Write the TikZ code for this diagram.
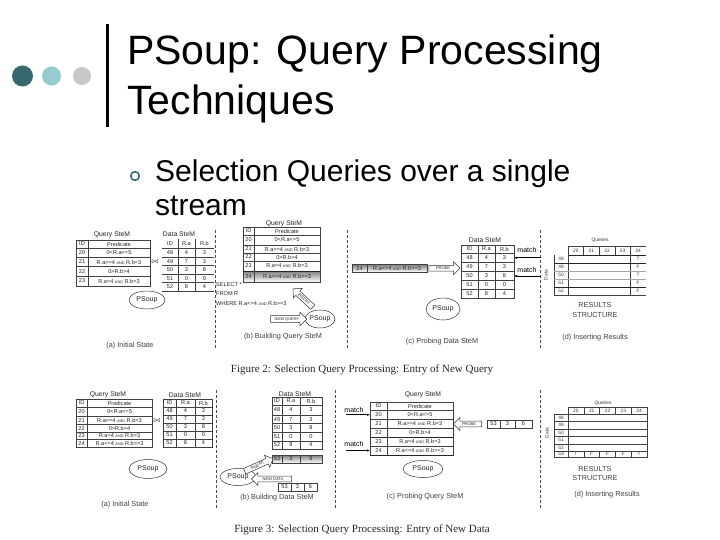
\documentclass[tikz,border=0pt]{standalone}
\usepackage{fontspec}
\setmainfont{Liberation Sans}
\newfontfamily\seriff{Liberation Serif}
\usetikzlibrary{shapes.geometric,shapes.arrows,arrows.meta}
\definecolor{dteal}{HTML}{366870}
\definecolor{lteal}{HTML}{96CBD0}
\definecolor{lgrey}{HTML}{C8C8C8}
\definecolor{shade}{HTML}{D2D2D2}
\newcommand{\andw}{\ {\fontsize{3.8}{4}\selectfont AND}\ }
\tikzset{
  tx/.style={inner sep=0pt, text=black!85, font=\fontsize{5.6}{6}\selectfont},
  ttl/.style={inner sep=0pt, text=black!85, font=\fontsize{6.8}{7}\selectfont},
  pcap/.style={inner sep=0pt, text=black!75, font=\fontsize{7.3}{8}\selectfont},
  tiny/.style={inner sep=0pt, text=black!80, font=\fontsize{4.8}{5}\selectfont},
  psoup/.style={draw=black!80, ellipse, inner sep=0pt, line width=0.5pt, text=black!85, font=\fontsize{7}{7}\selectfont},
  sepline/.style={black!70, line width=0.6pt, dash pattern=on 3pt off 2pt},
  grid/.style={black!75, line width=0.5pt},
  boldgrid/.style={black!85, line width=0.9pt},
  harrow/.style={draw=black!80, fill=white, single arrow, single arrow head extend=3.5pt, minimum height=#1, inner sep=1.3pt, line width=0.5pt, text=black!85, font=\fontsize{4}{4}\selectfont},
  matcharrow/.style={-{Latex[length=3pt,width=2.5pt]}, black, line width=0.8pt},
  caption/.style={inner sep=0pt, text=black!85, font=\seriff\fontsize{11}{11}\selectfont}
}
\begin{document}
\begin{tikzpicture}[x=1pt,y=-1pt]
\useasboundingbox (0,0) rectangle (720,540);
\fill[white] (0,0) rectangle (720,540);

% ---------- slide header ----------
\fill[dteal] (22.5,76) circle (10.5);
\fill[lteal] (51.5,76) circle (9.5);
\fill[lgrey] (82,76) circle (9);
\fill[black] (105.5,24) rectangle (109,127);
\node[anchor=base west, inner sep=0pt, font=\fontsize{41}{41}\selectfont] (t1) at (127,65) {PSoup: Query Processing};
\node[anchor=base west, inner sep=0pt, font=\fontsize{41}{41}\selectfont] (t2) at (127,115) {Techniques};
\draw[dteal, line width=1.6pt] (135,176) circle (4.3);
\node[anchor=base west, inner sep=0pt, font=\fontsize{30}{30}\selectfont] (b1) at (155,182) {Selection Queries over a single};
\node[anchor=base west, inner sep=0pt, font=\fontsize{30}{30}\selectfont] (b2) at (155,215) {stream};

% ================= FIGURE 2 =================
\draw[sepline] (215,230) -- (215,348);
\draw[sepline] (347,230) -- (347,348);
\draw[sepline] (540,230) -- (540,348);

% ---- (a) ----
\node[ttl] (qa-title) at (112,235) {Query SteM};
\draw[grid] (76,240) rectangle (150,286);
\foreach \yy in {248,257.5,266.5,276} \draw[grid] (76,\yy) -- (150,\yy);
\draw[grid] (88,240) -- (88,286);
\node[tx] (qa-h1) at (82,244) {ID};
\node[tx] (qa-h2) at (119,244) {Predicate};
\foreach \id/\p/\yy [count=\k] in {20/{0<R.a<=5}/252.75, 21/{R.a>=4\andw R.b=3}/262, 22/{0>R.b>4}/271.25, 23/{R.a=4\andw R.b=3}/281} {
  \node[tx] (qa-i\k) at (82,\yy) {\id};
  \node[tx] (qa-p\k) at (119,\yy) {\p};
}
\node[inner sep=0pt, font=\fontsize{7}{7}\selectfont] (join2) at (155,262) {$\bowtie$};
\node[ttl] (da-title) at (179,234) {Data SteM};
\foreach \yy in {248,257,265.5,274,282.5,291} \draw[grid] (162,\yy) -- (214,\yy);
\draw[grid] (178,239) -- (178,291);
\draw[grid] (195,239) -- (195,291);
\node[tx] (da-h1) at (170,243.5) {ID};
\node[tx] (da-h2) at (186.5,243.5) {R.a};
\node[tx] (da-h3) at (204.5,243.5) {R.b};
\foreach \id/\a/\b/\yy [count=\k] in {48/4/3/252.5, 49/7/3/261.25, 50/3/8/269.75, 51/0/0/278.25, 52/8/4/286.75} {
  \node[tx] (da-i\k) at (170,\yy) {\id};
  \node[tx] (da-a\k) at (186.5,\yy) {\a};
  \node[tx] (da-b\k) at (204.5,\yy) {\b};
}
\node[psoup, minimum width=36pt, minimum height=18pt] (ps2a) at (147,300) {PSoup};
\node[pcap] (cap2a) at (130,346) {(a) Initial State};

% ---- (b) ----
\node[ttl] (qb-title) at (284,224) {Query SteM};
\fill[shade] (243,271) rectangle (320,282);
\draw[grid] (243,227) rectangle (320,282);
\foreach \yy in {235,245,253,261} \draw[grid] (243,\yy) -- (320,\yy);
\draw[boldgrid] (243,271) -- (320,271);
\draw[grid] (254,227) -- (254,282);
\node[tx] (qb-h1) at (248.5,231) {ID};
\node[tx] (qb-h2) at (287,231) {Predicate};
\foreach \id/\p/\yy [count=\k] in {20/{0<R.a<=5}/240, 21/{R.a>=4\andw R.b=3}/249, 22/{0>R.b>4}/257, 23/{R.a=4\andw R.b=3}/265.5, 24/{R.a<=4\andw R.b>=3}/276.5} {
  \node[tx] (qb-i\k) at (248.5,\yy) {\id};
  \node[tx] (qb-p\k) at (287,\yy) {\p};
}
\node[tx, anchor=west] (sql1) at (216,285) {SELECT *};
\node[tx, anchor=west] (sql2) at (216,294) {FROM R};
\node[tx, anchor=west] (sql3) at (216,303) {WHERE R.a<=4\andw R.b>=3};
\node[psoup, minimum width=30pt, minimum height=18pt] (ps2b) at (320,319) {PSoup};
\node[harrow=27pt, rotate=-43, shape border rotate=180] (ins2) at (304,299) {INSERT};
\node[harrow=36pt] (nq2) at (287,319) {NEW QUERY};
\node[pcap] (cap2b) at (283,337) {(b) Building Query SteM};

% ---- (c) ----
\fill[shade] (352,264.5) rectangle (427,272);
\draw[grid] (352,264.5) rectangle (427,272);
\draw[grid] (367,264.5) -- (367,272);
\node[tx] (pr-i) at (359.5,268.25) {24};
\node[tx] (pr-p) at (397,268.25) {R.a<=4\andw R.b>=3};
\node[harrow=31pt] (probe2) at (443,268.25) {PROBE};
\node[ttl] (dc-title) at (485,240) {Data SteM};
\draw[grid] (461,245) rectangle (514,298.5);
\foreach \yy in {253,262.5,271.5,280.5,289.5} \draw[grid] (461,\yy) -- (514,\yy);
\draw[grid] (478,245) -- (478,298.5);
\draw[grid] (495,245) -- (495,298.5);
\node[tx] (dc-h1) at (469.5,249) {ID};
\node[tx] (dc-h2) at (486.5,249) {R.a};
\node[tx] (dc-h3) at (504.5,249) {R.b};
\foreach \id/\a/\b/\yy [count=\k] in {48/4/3/257.75, 49/7/3/267, 50/3/8/276, 51/0/0/285, 52/8/4/294} {
  \node[tx] (dc-i\k) at (469.5,\yy) {\id};
  \node[tx] (dc-a\k) at (486.5,\yy) {\a};
  \node[tx] (dc-b\k) at (504.5,\yy) {\b};
  \coordinate (dc-e\k) at (514,\yy);
}
\node[inner sep=0pt, font=\fontsize{7}{7}\selectfont] (m1) at (527,250) {match};
\node[inner sep=0pt, font=\fontsize{7}{7}\selectfont] (m2) at (527,270) {match};
\coordinate (m1s) at (541,257.75);
\coordinate (m2s) at (541,276);
\draw[matcharrow] (m1s) -- (dc-e1);
\draw[matcharrow] (m2s) -- (dc-e3);
\node[psoup, minimum width=34pt, minimum height=22pt] (ps2c) at (443,309) {PSoup};
\node[pcap] (cap2c) at (442,342) {(c) Probing Data SteM};

% ---- (d) ----
\node[tiny] (qr2) at (600,240) {Queries};
\draw[grid] (568,246) -- (646,246);
\draw[boldgrid] (568,255) -- (646,255);
\foreach \xx in {583.6,599.2,614.8,630.4} \draw[grid] (\xx,246) -- (\xx,255);
\draw[grid] (630.4,255) -- (630.4,295);
\draw[grid] (568,246) -- (568,295);
\draw[grid] (554,255) -- (554,295);
\draw[boldgrid] (554,263) -- (646,263);
\draw[black!35, line width=0.5pt] (554,271) -- (646,271);
\draw[black!35, line width=0.5pt] (554,279) -- (646,279);
\draw[boldgrid] (554,287) -- (646,287);
\draw[grid] (554,295) -- (646,295);
\foreach \q/\xx [count=\k] in {20/575.8,21/591.4,22/607,23/622.6,24/638.2}
  \node[tiny] (r2q\k) at (\xx,250.5) {\q};
\foreach \d/\v/\yy [count=\k] in {48/T/259,49/F/267,50/T/275,51/F/283,52/F/291} {
  \node[tiny] (r2d\k) at (561,\yy) {\d};
  \node[tiny] (r2v\k) at (638.2,\yy) {\v};
}
\node[tiny, rotate=90] (r2data) at (546,275) {Data};
\node[pcap] (rs2a) at (595,305) {RESULTS};
\node[pcap] (rs2b) at (595,315) {STRUCTURE};
\node[pcap] (cap2d) at (595,338) {(d) Inserting Results};

\node[caption] (cap2) at (362,370) {Figure 2: Selection Query Processing: Entry of New Query};

% ================= FIGURE 3 =================
\draw[sepline] (216,390) -- (216,510);
\draw[sepline] (335,390) -- (335,510);
\draw[sepline] (540,390) -- (540,510);

% ---- (a) ----
\node[ttl] (qa3-title) at (108,395) {Query SteM};
\draw[grid] (76,399) rectangle (152,447);
\foreach \yy in {407,416.5,424.5,432,439.5} \draw[grid] (76,\yy) -- (152,\yy);
\draw[grid] (87,399) -- (87,447);
\node[tx] (qa3-h1) at (81.5,403) {ID};
\node[tx] (qa3-h2) at (119.5,403) {Predicate};
\foreach \id/\p/\yy [count=\k] in {20/{0<R.a<=5}/411.75, 21/{R.a>=4\andw R.b=3}/420.5, 22/{0>R.b>4}/428.25, 23/{R.a=4\andw R.b=3}/435.75, 24/{R.a<=4\andw R.b>=3}/443.25} {
  \node[tx] (qa3-i\k) at (81.5,\yy) {\id};
  \node[tx] (qa3-p\k) at (119.5,\yy) {\p};
}
\node[inner sep=0pt, font=\fontsize{7}{7}\selectfont] (join3) at (157,421) {$\bowtie$};
\node[ttl] (da3-title) at (185,395) {Data SteM};
\draw[grid] (163,399) rectangle (212,447);
\foreach \yy in {407,415,423,431,439} \draw[grid] (163,\yy) -- (212,\yy);
\draw[grid] (176,399) -- (176,447);
\draw[grid] (195,399) -- (195,447);
\node[tx] (da3-h1) at (169.5,403) {ID};
\node[tx] (da3-h2) at (185.5,403) {R.a};
\node[tx] (da3-h3) at (203.5,403) {R.b};
\foreach \id/\a/\b/\yy [count=\k] in {48/4/3/411, 49/7/3/419, 50/3/8/427, 51/0/0/435, 52/8/4/443} {
  \node[tx] (da3-i\k) at (169.5,\yy) {\id};
  \node[tx] (da3-a\k) at (185.5,\yy) {\a};
  \node[tx] (da3-b\k) at (203.5,\yy) {\b};
}
\node[psoup, minimum width=38pt, minimum height=19pt] (ps3a) at (148,469) {PSoup};
\node[pcap] (cap3a) at (125,505) {(a) Initial State};

% ---- (b) ----
\node[ttl] (db3-title) at (295,394) {Data SteM};
\draw[grid] (272,397) rectangle (322,449);
\foreach \yy in {405,415,423.5,432.5,441} \draw[grid] (272,\yy) -- (322,\yy);
\draw[grid] (282,397) -- (282,449);
\draw[grid] (300,397) -- (300,449);
\node[tx] (db3-h1) at (277,401) {ID};
\node[tx] (db3-h2) at (291,401) {R.a};
\node[tx] (db3-h3) at (311,401) {R.b};
\foreach \id/\a/\b/\yy [count=\k] in {48/4/3/410, 49/7/3/419.25, 50/3/8/428, 51/0/0/436.75, 52/8/4/445} {
  \node[tx] (db3-i\k) at (277,\yy) {\id};
  \node[tx] (db3-a\k) at (291,\yy) {\a};
  \node[tx] (db3-b\k) at (311,\yy) {\b};
}
\fill[shade] (272,455) rectangle (322,463);
\draw[grid] (272,455) rectangle (322,463);
\draw[grid] (282,455) -- (282,463);
\draw[grid] (300,455) -- (300,463);
\node[tx] (db3-ni) at (277,459) {53};
\node[tx] (db3-na) at (291,459) {3};
\node[tx] (db3-nb) at (311,459) {8};
\node[psoup, minimum width=36pt, minimum height=17pt] (ps3b) at (238,477) {PSoup};
\node[harrow=31pt, rotate=24] (ins3) at (257.5,465.5) {INSERT};
\node[harrow=40pt, shape border rotate=180] (nd3) at (273,479) {NEW DATA};
\draw[grid] (278,483) rectangle (317,491);
\draw[grid] (291,483) -- (291,491);
\draw[grid] (304,483) -- (304,491);
\node[tx] (nb-i) at (284.5,487) {53};
\node[tx] (nb-a) at (297.5,487) {3};
\node[tx] (nb-b) at (310.5,487) {6};
\node[pcap] (cap3b) at (277,498) {(b) Building Data SteM};

% ---- (c) ----
\node[ttl] (qc3-title) at (423,395) {Query SteM};
\draw[grid] (370,402) rectangle (453,455);
\foreach \yy in {410,419.5,428,437,446} \draw[grid] (370,\yy) -- (453,\yy);
\draw[boldgrid] (370,437) -- (453,437);
\draw[boldgrid] (370,455) -- (453,455);
\draw[grid] (387,402) -- (387,455);
\node[tx] (qc3-h1) at (378.5,406) {ID};
\node[tx] (qc3-h2) at (420,406) {Predicate};
\foreach \id/\p/\yy [count=\k] in {20/{0<R.a<=5}/414.75, 21/{R.a>=4\andw R.b=3}/423.75, 22/{0>R.b>4}/432.5, 23/{R.a=4\andw R.b=3}/441.5, 24/{R.a<=4\andw R.b>=3}/450.5} {
  \node[tx] (qc3-i\k) at (378.5,\yy) {\id};
  \node[tx] (qc3-p\k) at (420,\yy) {\p};
  \coordinate (qc3-w\k) at (370,\yy);
}
\node[inner sep=0pt, font=\fontsize{7}{7}\selectfont] (m3) at (354,409.5) {match};
\node[inner sep=0pt, font=\fontsize{7}{7}\selectfont] (m4) at (354,444) {match};
\coordinate (m3s) at (346,414.75);
\coordinate (m4s) at (346,450.5);
\draw[matcharrow] (m3s) -- (qc3-w1);
\draw[matcharrow] (m4s) -- (qc3-w5);
\node[harrow=28pt, shape border rotate=180] (probe3) at (469,424) {PROBE};
\draw[grid] (487,420) rectangle (532,428);
\draw[grid] (500,420) -- (500,428);
\draw[grid] (515,420) -- (515,428);
\node[tx] (pb-i) at (493.5,424) {53};
\node[tx] (pb-a) at (507.5,424) {3};
\node[tx] (pb-b) at (523.5,424) {6};
\node[psoup, minimum width=40pt, minimum height=17pt] (ps3c) at (423,469) {PSoup};
\node[pcap] (cap3c) at (425,497) {(c) Probing Query SteM};

% ---- (d) ----
\node[tiny] (qr3) at (603,403) {Queries};
\draw[grid] (568,407) rectangle (647,457);
\draw[grid] (568,414) -- (647,414);
\foreach \xx in {583.8,599.6,615.4,631.2} {
  \draw[grid] (\xx,407) -- (\xx,414);
  \draw[grid] (\xx,451) -- (\xx,457);
}
\draw[grid] (554,414) -- (554,457);
\draw[grid] (554,414) -- (568,414);
\foreach \yy in {421,429,436.5,444,451} \draw[grid] (554,\yy) -- (647,\yy);
\draw[grid] (554,457) -- (568,457);
\foreach \q/\xx [count=\k] in {20/575.9,21/591.7,22/607.5,23/623.3,24/639.1}
  \node[tiny] (r3q\k) at (\xx,410.5) {\q};
\foreach \d/\yy [count=\k] in {48/417.5,49/425,50/432.75,51/440.25,52/447.5,53/454} 
  \node[tiny] (r3d\k) at (561,\yy) {\d};
\foreach \v/\xx [count=\k] in {T/575.9,F/591.7,F/607.5,F/623.3,T/639.1}
  \node[tiny] (r3v\k) at (\xx,454) {\v};
\node[tiny, rotate=90] (r3data) at (547,433) {Data};
\node[pcap] (rs3a) at (595,469) {RESULTS};
\node[pcap] (rs3b) at (595,477.5) {STRUCTURE};
\node[pcap] (cap3d) at (607,495) {(d) Inserting Results};

\node[caption] (cap3) at (362,530) {Figure 3: Selection Query Processing: Entry of New Data};
\end{tikzpicture}
\end{document}
